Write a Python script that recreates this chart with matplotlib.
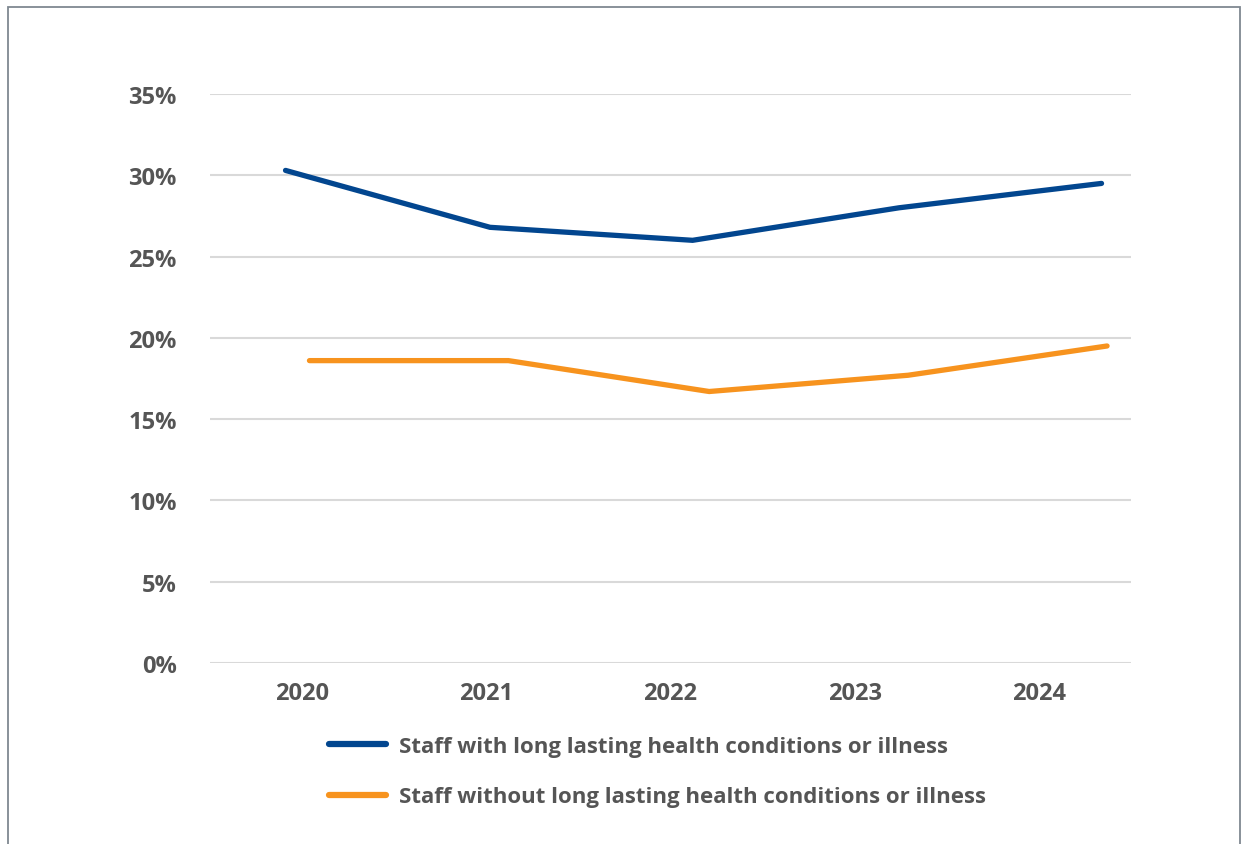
import matplotlib
matplotlib.use("Agg")
import matplotlib.pyplot as plt
from matplotlib.patches import Rectangle
from matplotlib.ticker import FuncFormatter

# Survey years shown on the category axis
years = [2020, 2021, 2022, 2023, 2024]
y_ticks = [0, 5, 10, 15, 20, 25, 30, 35]

# Percentage of staff, by group
with_condition = [30.3, 26.8, 26.0, 28.0, 29.5]
without_condition = [18.6, 18.6, 16.7, 17.7, 19.5]

# Horizontal placement of each series' points along the year axis
with_condition_x = [2019.91, 2021.02, 2022.12, 2023.24, 2024.34]
without_condition_x = [2020.04, 2021.12, 2022.21, 2023.29, 2024.37]

label_with = "Staff with long lasting health conditions or illness"
label_without = "Staff without long lasting health conditions or illness"

BLUE = "#02468f"
ORANGE = "#f7931e"
TEXT = "#555555"
GRID = "#d9d9d9"

plt.rcParams["font.family"] = ["Open Sans", "DejaVu Sans"]

W, H = 1242, 845
fig = plt.figure(figsize=(W / 100, H / 100), dpi=100)
fig.patch.set_facecolor("white")

# Outer frame
fig.add_artist(Rectangle((8 / W, -0.05), (1240 - 8) / W, (H - 8) / H + 0.05,
                         transform=fig.transFigure, fill=False,
                         edgecolor="#7f8891", linewidth=1.3))

left, right = 210 / W, 1131 / W
bottom, top = 1 - 664 / H, 1 - 95 / H
ax = fig.add_axes([left, bottom, right - left, top - bottom])

ax.plot(with_condition_x, with_condition, color=BLUE, linewidth=3.8,
        solid_capstyle="round", solid_joinstyle="miter", label=label_with, zorder=3)
ax.plot(without_condition_x, without_condition, color=ORANGE, linewidth=3.8,
        solid_capstyle="round", solid_joinstyle="miter", label=label_without, zorder=3)

ax.set_xlim(years[0] - 0.5, years[-1] + 0.5)
ax.set_ylim(0, 35)
ax.set_xticks(years)
ax.set_xticklabels([str(y) for y in years])
ax.set_yticks(y_ticks)
ax.yaxis.set_major_formatter(FuncFormatter(lambda v, p: f"{v:.0f}%"))

for s in ax.spines.values():
    s.set_visible(False)
ax.grid(axis="y", color=GRID, linewidth=1.5, zorder=0)
ax.set_axisbelow(True)
ax.tick_params(axis="both", length=0, labelsize=17, labelcolor=TEXT)
ax.tick_params(axis="y", pad=24)
ax.tick_params(axis="x", pad=13)
for lab in ax.get_xticklabels() + ax.get_yticklabels():
    lab.set_fontweight("bold")

leg = fig.legend(loc="upper left", bbox_to_anchor=(309 / W, 1 - 717 / H),
                 frameon=False, handlelength=2.55,
                 handletextpad=0.62, labelspacing=1.32, labelcolor=TEXT,
                 prop={"weight": "bold", "size": 16})
for line in leg.get_lines():
    line.set_linewidth(4.5)
    line.set_solid_capstyle("round")

fig.savefig("out.png", dpi=100, facecolor="white")
